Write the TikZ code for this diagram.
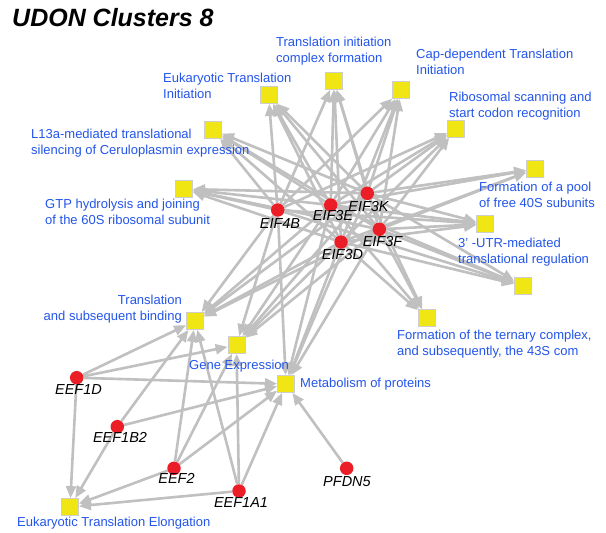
\documentclass[tikz,border=0pt]{standalone}
\usepackage{fontspec}
\setmainfont{Liberation Sans}
\usetikzlibrary{arrows.meta,backgrounds}
\definecolor{lblue}{RGB}{35,85,235}
\definecolor{nyel}{RGB}{240,230,20}
\definecolor{nred}{RGB}{235,30,40}
\definecolor{egray}{RGB}{192,192,192}
\definecolor{bgray}{RGB}{205,205,205}
\begin{document}
\begin{tikzpicture}[x=1pt,y=-1pt,
  pathway/.style={rectangle, draw=bgray, line width=0.8pt, fill=nyel, minimum size=17pt, inner sep=0pt},
  gene/.style={circle, fill=nred, minimum size=13.5pt, inner sep=0pt},
  plabel/.style={text=lblue, font=\fontsize{13}{16}\selectfont, inner sep=0pt},
  glabel/.style={font=\fontsize{14.5}{17}\selectfont\itshape, inner sep=0pt, anchor=base},
  link/.style={draw=egray, line width=2.6pt, -{Triangle[length=12pt,width=10pt]}}]
\useasboundingbox (0,0) rectangle (606,533);
% title
\node[font=\fontsize{25}{30}\selectfont\bfseries\itshape, anchor=base west, inner sep=0pt] (title) at (12,26) {UDON Clusters 8};
% pathway nodes
\node[pathway] (eti) at (268.5,95) {};
\node[pathway] (ticf) at (334,81) {};
\node[pathway] (cap) at (401,90) {};
\node[pathway] (l13a) at (213,130) {};
\node[pathway] (gtp) at (184,189) {};
\node[pathway] (rss) at (456,129) {};
\node[pathway] (pool) at (535,169) {};
\node[pathway] (utr) at (485,224) {};
\node[pathway] (unk) at (523,286) {};
\node[pathway] (tern) at (426.5,318) {};
\node[pathway] (tsb) at (195,321) {};
\node[pathway] (ge) at (236.5,345) {};
\node[pathway] (mop) at (286,384) {};
\node[pathway] (ete) at (70,507) {};
% gene nodes
\node[gene] (eif4b) at (277.7,210) {};
\node[gene] (eif3e) at (330.7,205) {};
\node[gene] (eif3k) at (367.3,193.3) {};
\node[gene] (eif3f) at (379.3,229.3) {};
\node[gene] (eif3d) at (341,242) {};
\node[gene] (eef1d) at (76.7,377.7) {};
\node[gene] (eef1b2) at (117.3,426.7) {};
\node[gene] (eef2) at (174,468.3) {};
\node[gene] (eef1a1) at (239,491) {};
\node[gene] (pfdn5) at (346.7,468.3) {};
% pathway labels
\node[plabel, align=left, anchor=north west] (eti-l) at (163,73) {Eukaryotic Translation\\Initiation};
\node[plabel, align=left, anchor=north west] (ticf-l) at (276,37) {Translation initiation\\complex formation};
\node[plabel, align=left, anchor=north west] (cap-l) at (416,49) {Cap-dependent Translation\\Initiation};
\node[plabel, align=left, anchor=north west] (l13a-l) at (31,129) {L13a-mediated translational\\silencing of Ceruloplasmin expression};
\node[plabel, align=left, anchor=north west] (gtp-l) at (45,199) {GTP hydrolysis and joining\\of the 60S ribosomal subunit};
\node[plabel, align=left, anchor=north west] (rss-l) at (449,92) {Ribosomal scanning and\\start codon recognition};
\node[plabel, align=left, anchor=north west] (pool-l) at (479,182) {Formation of a pool\\of free 40S subunits};
\node[plabel, align=left, anchor=north west] (utr-l) at (458,238) {3' -UTR-mediated\\translational regulation};
\node[plabel, align=left, anchor=north west] (tern-l) at (397,330) {Formation of the ternary complex,\\and subsequently, the 43S com};
\node[plabel, align=right, anchor=north east] (tsb-l) at (182,295) {Translation\\and subsequent binding};
\node[plabel, anchor=north west] (ge-l) at (189,360) {Gene Expression};
\node[plabel, anchor=north west] (mop-l) at (300,378) {Metabolism of proteins};
\node[plabel, anchor=north west] (ete-l) at (17,517) {Eukaryotic Translation Elongation};
% gene labels
\node[glabel] (eif4b-l) at (280,228) {EIF4B};
\node[glabel] (eif3e-l) at (333,220.5) {EIF3E};
\node[glabel] (eif3k-l) at (368.5,211) {EIF3K};
\node[glabel] (eif3f-l) at (382.5,246) {EIF3F};
\node[glabel] (eif3d-l) at (342.5,259) {EIF3D};
\node[glabel] (eef1d-l) at (78.5,394) {EEF1D};
\node[glabel] (eef1b2-l) at (120,442) {EEF1B2};
\node[glabel] (eef2-l) at (176.5,483) {EEF2};
\node[glabel] (eef1a1-l) at (241,507.5) {EEF1A1};
\node[glabel] (pfdn5-l) at (347,486) {PFDN5};
% edges
\begin{pgfonlayer}{background}
\fill[white] (0,0) rectangle (606,533);
\foreach \g in {eif3e,eif3k,eif3f,eif3d}
  \foreach \t in {eti,ticf,cap,l13a,gtp,rss,pool,utr,unk,tern,tsb,ge,mop}
    \draw[link] (\g) -- (\t);
\foreach \t in {eti,ticf,cap,l13a,gtp,rss,utr,unk,tsb,ge,mop}
  \draw[link] (eif4b) -- (\t);
\foreach \t in {tsb,ge,mop,ete} \draw[link] (eef1d) -- (\t);
\foreach \t in {tsb,mop,ete} \draw[link] (eef1b2) -- (\t);
\foreach \t in {tsb,ge,mop,ete} \draw[link] (eef2) -- (\t);
\foreach \t in {tsb,ge,mop,ete} \draw[link] (eef1a1) -- (\t);
\draw[link] (pfdn5) -- (mop);
\end{pgfonlayer}
\end{tikzpicture}
\end{document}
